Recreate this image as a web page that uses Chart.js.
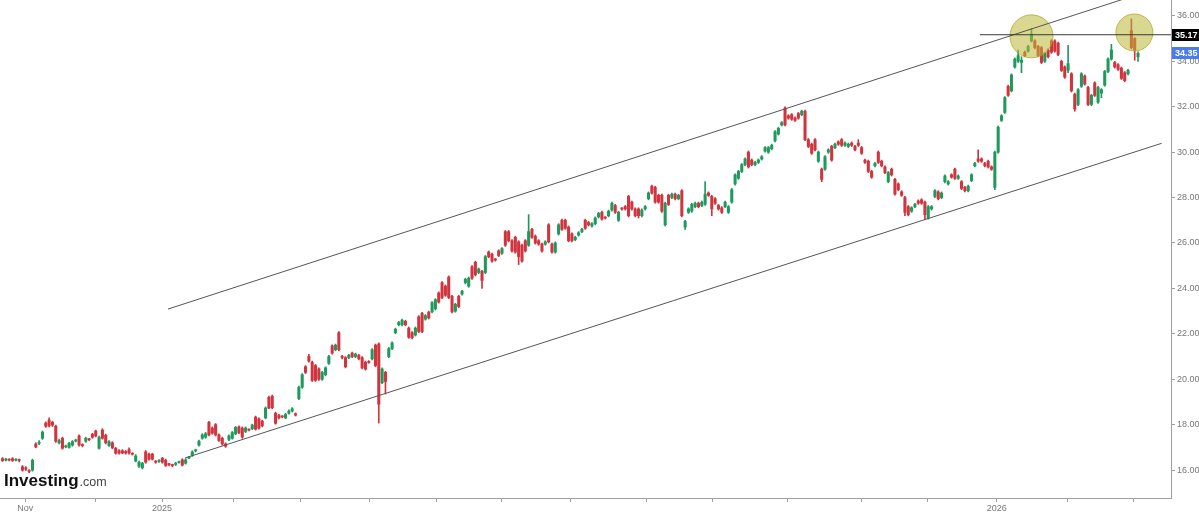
<!DOCTYPE html>
<html><head><meta charset="utf-8">
<script src="https://cdn.jsdelivr.net/npm/chart.js@4/dist/chart.umd.min.js"></script>
<style>html,body{margin:0;padding:0;background:#fff;overflow:hidden}#wrap{width:1199px;height:515px;position:relative}</style>
</head><body><div id="wrap"><canvas id="c"></canvas></div>
<script>
// ---- data ----
const opens=[
16.50,16.44,16.47,16.50,16.44,16.45,16.14,16.10,15.98,16.00,
17.15,17.18,17.40,18.07,18.20,18.10,17.93,17.20,17.40,17.02,
17.00,17.10,17.28,17.50,17.12,17.27,17.36,17.58,17.72,16.96,
17.76,17.53,17.08,17.20,16.96,16.85,16.85,16.82,16.90,16.72,
16.40,16.17,16.10,16.80,16.70,16.70,16.37,16.38,16.52,16.43,
16.26,16.22,16.25,16.33,16.45,16.30,16.53,16.65,16.85,17.10,
17.40,17.45,18.10,17.85,18.00,17.55,17.40,17.15,17.35,17.40,
17.60,17.90,17.85,17.70,17.78,17.82,18.33,18.25,18.15,18.30,
19.20,19.25,18.50,18.40,18.36,18.30,18.50,18.60,18.48,19.15,
19.65,20.55,21.00,20.75,20.60,20.45,20.00,20.20,20.70,21.47,
21.30,22.05,21.00,20.95,20.95,21.15,21.00,21.05,20.95,20.75,
20.77,20.90,21.50,21.55,19.85,20.30,21.00,21.35,22.05,22.40,
22.40,22.55,22.25,22.05,21.95,22.75,22.90,22.65,22.95,22.97,
23.10,23.80,24.25,24.10,24.50,23.65,23.00,23.65,23.75,24.25,
24.10,24.95,25.15,24.70,24.75,24.70,25.60,25.50,25.27,25.65,
25.55,26.50,26.50,26.10,26.25,26.05,25.90,26.10,25.90,26.60,
26.30,26.10,25.95,25.95,26.80,25.95,25.60,26.40,27.00,27.00,
26.70,26.40,26.15,26.35,26.50,27.00,26.90,26.75,26.85,27.15,
27.35,27.12,27.20,27.45,27.65,27.00,27.52,27.60,28.05,27.80,
27.50,27.50,27.20,27.50,27.95,28.50,28.45,28.10,28.10,26.80,
28.10,28.00,28.15,27.95,28.30,26.70,27.35,27.40,27.60,27.75,
27.65,27.70,28.20,28.05,27.95,27.65,27.55,27.60,27.35,27.80,
28.60,28.85,29.15,29.45,30.00,29.65,29.45,29.55,29.70,30.05,
30.00,30.15,30.50,30.80,31.20,31.95,31.60,31.65,31.50,31.70,
31.65,31.80,30.55,30.35,30.55,29.60,29.25,29.25,30.00,30.25,
30.20,30.45,30.55,30.30,30.25,30.40,30.25,30.40,30.20,29.65,
29.60,29.15,29.40,30.00,29.60,29.35,28.70,29.25,28.80,28.60,
28.25,28.00,27.60,27.40,27.60,27.85,27.90,27.80,27.10,27.50,
28.05,28.25,28.00,28.70,28.60,29.00,29.25,28.85,28.70,28.45,
28.30,28.75,29.40,29.70,29.70,29.50,29.60,29.35,28.45,30.00,
31.40,31.75,32.90,32.70,33.75,34.00,33.95,34.40,34.45,34.90,
34.90,34.65,34.60,34.00,34.50,34.90,34.90,34.80,34.00,33.75,
33.60,33.45,32.55,32.10,32.90,33.35,32.85,32.10,33.05,32.20,
32.60,32.95,33.55,34.10,33.95,33.85,33.70,33.50,33.45,35.35,
35.00,34.20];
const closes=[
16.42,16.47,16.44,16.42,16.46,16.42,16.00,16.04,15.94,16.43,
17.02,17.22,17.67,17.93,17.95,17.98,17.27,17.30,16.96,17.06,
17.18,17.25,17.32,17.10,17.08,17.40,17.34,17.45,17.50,17.45,
17.40,17.20,17.25,16.98,16.74,16.75,16.75,16.75,16.75,16.70,
16.62,16.35,16.30,16.35,16.48,16.48,16.35,16.42,16.35,16.20,
16.24,16.20,16.30,16.36,16.22,16.45,16.56,16.80,16.88,17.27,
17.55,17.60,17.55,17.62,17.55,17.30,17.15,17.05,17.50,17.65,
17.88,17.65,17.45,17.85,17.76,17.98,17.80,17.85,17.95,18.73,
18.73,18.75,18.06,18.30,18.34,18.45,18.60,18.70,18.42,19.65,
20.20,20.30,20.80,19.95,19.95,20.00,20.30,20.50,21.00,21.15,
21.50,21.30,20.96,20.55,21.05,21.00,21.10,20.90,20.50,20.45,
20.74,21.30,20.60,18.90,20.45,19.90,21.35,21.60,22.20,22.50,
22.60,22.40,21.85,21.83,22.25,22.10,22.10,22.80,22.70,23.37,
23.50,23.40,23.60,23.70,23.60,22.97,23.30,23.20,23.88,24.40,
24.45,24.45,24.60,24.85,24.35,25.40,25.40,25.20,25.25,25.45,
25.75,25.90,26.10,25.65,25.60,25.40,25.20,25.65,26.50,26.25,
26.00,25.95,25.65,26.05,26.05,25.60,26.00,26.80,26.60,26.65,
26.10,26.10,26.25,26.45,26.60,26.65,26.80,26.85,27.10,27.30,
27.05,27.10,27.40,27.75,27.35,27.35,27.50,27.50,27.20,27.50,
27.20,27.20,27.45,27.60,28.20,28.20,27.80,27.80,27.40,27.75,
27.70,28.15,27.95,28.10,27.20,26.95,27.50,27.70,27.75,27.60,
27.80,28.15,28.10,27.50,27.75,27.50,27.35,27.80,27.60,28.35,
29.00,29.15,29.45,29.70,29.35,29.45,29.55,29.65,29.80,30.20,
30.20,30.30,30.90,31.05,31.30,31.20,31.50,31.45,31.40,31.50,
31.80,30.55,30.25,29.95,30.10,30.00,28.80,29.80,30.10,29.65,
30.35,30.35,30.30,30.40,30.35,30.30,30.10,30.30,29.95,29.55,
29.15,28.90,29.50,29.55,29.40,29.10,29.10,29.00,28.15,28.35,
28.10,27.35,27.25,27.55,27.70,27.75,27.75,27.25,27.60,27.60,
28.30,27.95,28.20,28.95,28.70,28.90,28.85,28.95,28.40,28.30,
28.50,29.00,29.50,29.60,29.60,29.40,29.35,29.25,30.00,31.10,
31.60,32.40,32.50,33.40,34.10,34.25,34.05,34.25,34.65,35.20,
34.60,34.25,33.95,34.35,34.20,34.40,34.45,34.30,33.60,33.30,
33.90,32.70,31.90,32.75,33.45,33.00,32.10,32.50,32.50,32.85,
32.75,33.55,34.10,34.50,33.75,33.65,33.25,33.15,33.60,34.60,
34.50,34.35];
const highs=[
16.55,16.52,16.50,16.55,16.50,16.48,16.20,16.15,16.02,16.48,
17.20,17.30,17.72,18.12,18.30,18.15,17.98,17.36,17.45,17.10,
17.22,17.30,17.36,17.55,17.16,17.45,17.40,17.62,17.76,17.50,
17.82,17.58,17.30,17.25,17.00,16.90,16.90,16.86,16.98,16.76,
16.68,16.40,16.34,16.86,16.75,16.74,16.42,16.46,16.56,16.48,
16.30,16.26,16.34,16.40,16.50,16.50,16.60,16.85,16.92,17.32,
17.60,17.66,18.15,17.90,18.05,17.60,17.45,17.20,17.55,17.70,
17.92,17.95,17.90,17.90,17.82,18.02,18.38,18.30,18.20,18.78,
19.26,19.30,18.55,18.45,18.40,18.50,18.65,18.75,18.52,19.70,
20.25,20.60,21.10,20.80,20.65,20.50,20.35,20.55,21.05,21.52,
21.55,22.10,21.05,21.00,21.10,21.20,21.15,21.10,21.00,20.80,
20.82,21.35,21.55,21.60,20.50,20.35,21.40,21.65,22.25,22.55,
22.65,22.60,22.30,22.10,22.30,22.80,22.95,22.85,23.00,23.42,
23.55,23.85,24.30,24.15,24.55,23.70,23.35,23.70,23.92,24.45,
24.50,25.00,25.20,24.90,24.80,25.45,25.65,25.55,25.32,25.70,
25.80,26.55,26.55,26.15,26.30,26.10,25.95,26.15,27.25,26.65,
26.35,26.15,26.00,26.10,26.85,26.00,26.05,26.85,27.05,27.05,
26.75,26.45,26.30,26.50,26.65,27.05,26.95,26.90,27.15,27.35,
27.40,27.16,27.45,27.80,27.70,27.40,27.56,27.65,28.10,27.85,
27.55,27.55,27.50,27.65,28.25,28.55,28.50,28.15,28.15,27.80,
28.15,28.20,28.20,28.15,28.35,27.00,27.55,27.75,27.80,27.80,
27.85,28.70,28.25,28.10,28.00,27.70,27.60,27.85,27.65,28.40,
29.05,29.20,29.50,29.75,30.05,29.70,29.60,29.70,29.85,30.25,
30.25,30.35,30.95,31.10,31.35,32.00,31.65,31.70,31.55,31.75,
31.85,31.85,30.60,30.40,30.60,30.05,29.30,29.85,30.15,30.30,
30.40,30.50,30.60,30.45,30.40,30.45,30.30,30.55,30.25,29.70,
29.65,29.20,29.55,30.05,29.65,29.40,29.15,29.30,28.85,28.65,
28.30,28.05,27.65,27.60,27.75,27.90,27.95,27.85,27.65,27.65,
28.35,28.30,28.25,29.00,28.75,29.05,29.30,29.00,28.75,28.50,
28.55,29.05,29.55,30.10,29.75,29.55,29.65,29.40,30.05,31.15,
31.65,32.45,32.95,33.45,34.15,34.50,34.20,34.45,34.70,35.45,
34.95,34.70,34.65,34.40,34.55,34.95,34.95,34.85,34.05,33.80,
34.70,33.50,32.60,32.80,33.50,33.40,32.90,32.55,33.10,32.90,
32.80,33.60,34.15,34.75,34.00,33.90,33.75,33.55,33.65,35.87,
35.05,34.42];
const lows=[
16.38,16.40,16.40,16.38,16.40,16.36,15.95,15.98,15.88,15.95,
16.98,17.12,17.35,17.88,17.90,17.92,17.22,17.15,16.92,16.98,
16.96,17.05,17.24,17.05,17.02,17.22,17.30,17.40,17.46,16.92,
17.36,17.15,17.04,16.94,16.70,16.70,16.72,16.70,16.70,16.66,
16.36,16.12,16.05,16.30,16.44,16.44,16.30,16.34,16.30,16.16,
16.18,16.14,16.20,16.30,16.18,16.26,16.50,16.60,16.80,17.05,
17.36,17.40,17.50,17.58,17.50,17.26,17.10,17.00,17.30,17.36,
17.56,17.60,17.40,17.65,17.72,17.78,17.76,17.80,17.90,18.26,
18.70,18.70,18.02,18.25,18.30,18.26,18.46,18.56,18.38,19.10,
19.60,20.25,20.75,19.90,19.90,19.95,19.95,20.15,20.65,21.10,
21.25,21.25,20.90,20.50,20.90,20.95,20.95,20.85,20.45,20.40,
20.70,20.85,20.55,18.07,19.80,19.35,20.95,21.30,22.00,22.35,
22.35,22.35,21.80,21.78,21.90,22.05,22.05,22.60,22.65,22.92,
23.05,23.35,23.55,23.65,23.55,22.92,22.95,23.15,23.70,24.20,
24.05,24.40,24.55,24.65,24.00,24.65,25.35,25.15,25.20,25.40,
25.50,25.85,26.05,25.60,25.55,25.05,25.15,25.60,25.85,26.20,
25.95,25.90,25.60,25.90,26.00,25.55,25.55,26.35,26.55,26.60,
26.05,26.05,26.10,26.30,26.45,26.60,26.75,26.70,26.80,27.10,
27.00,27.05,27.15,27.40,27.30,26.95,27.45,27.45,27.15,27.45,
27.15,27.10,27.15,27.45,27.90,28.15,27.75,27.75,27.35,26.75,
27.65,27.95,27.90,27.90,27.15,26.60,27.30,27.35,27.55,27.55,
27.60,27.65,28.05,27.20,27.70,27.45,27.30,27.55,27.30,27.75,
28.55,28.80,29.10,29.40,29.30,29.40,29.40,29.50,29.65,30.00,
29.95,30.10,30.45,30.75,31.15,31.15,31.45,31.40,31.35,31.45,
31.60,30.50,30.20,29.90,30.05,29.55,28.70,29.20,29.95,29.60,
30.15,30.30,30.25,30.25,30.20,30.25,30.05,30.25,29.90,29.50,
29.10,28.85,29.35,29.50,29.35,29.05,28.65,28.95,28.10,28.30,
28.05,27.20,27.20,27.35,27.55,27.70,27.70,27.05,27.05,27.45,
28.00,27.90,27.95,28.65,28.55,28.85,28.80,28.80,28.35,28.25,
28.25,28.70,29.35,29.55,29.55,29.35,29.30,29.20,28.35,29.95,
31.35,31.70,32.45,32.65,33.70,33.95,33.50,34.20,34.40,34.85,
34.55,34.20,33.90,33.95,34.15,34.35,34.40,34.25,33.55,33.25,
33.50,32.65,31.80,32.05,32.85,32.95,32.05,32.05,32.45,32.15,
32.40,32.90,33.50,34.05,33.70,33.60,33.20,33.10,33.40,34.55,
34.05,34.00];

// month boundaries on the trading-day index axis and their labels
const monthTickIdx=[6.8,27.8,47.9,69.5,89.6,110.1,130.2,150.0,170.7,193.5,213.1,235.6,258.1,277.9,298.6,319.7,339.5];
const monthTickLabels=['Nov','','2025','','','','','','','','','','','','2026','',''];
const priceTicks=[16,18,20,22,24,26,28,30,32,34,36];

// drawn annotations (trading-day index, price)
const upperChannel=[{x:49.7,y:23.09},{x:340,y:36.90}];
const lowerChannel=[{x:54.8,y:16.53},{x:348.1,y:30.39}];
const resistanceLine=[{x:293.5,y:35.17},{x:351,y:35.17}];
const highlightCircles=[{x:309.0,y:35.10},{x:339.9,y:35.27}];
const priceTags=[35.17,34.35];

// ---- chart ----
const UP='#1f9a5c', DOWN='#d0343e';
const bodies=opens.map((o,i)=>({x:i,y:[o,closes[i]]}));
const wicks=lows.map((l,i)=>({x:i,y:[l,highs[i]]}));
const colorFor=c=>closes[c.dataIndex]>=opens[c.dataIndex]?UP:DOWN;

const overlayPlugin={
  id:'overlay',
  afterDraw(chart){
    const {ctx,chartArea:a,scales:{y}}=chart;
    const bgs=['#000000','#4a7cf0'];
    ctx.save();
    priceTags.forEach((v,k)=>{
      const py=Math.round(y.getPixelForValue(v));
      ctx.fillStyle=bgs[k];
      ctx.fillRect(a.right+1,py-6,30,12);
      ctx.fillStyle='#ffffff';
      ctx.font='bold 9px "Liberation Sans", Arial, sans-serif';
      ctx.textBaseline='middle';ctx.textAlign='left';
      ctx.fillText(v.toFixed(2),a.right+4,py+0.5);
    });
    // logo
    ctx.textBaseline='alphabetic';ctx.textAlign='left';
    ctx.fillStyle='#111';
    ctx.font='bold 17px "Liberation Sans", Arial, sans-serif';
    const lx=a.left+4, ly=a.bottom-12;
    ctx.fillText('Investing',lx,ly);
    const w=ctx.measureText('Investing').width;
    ctx.fillStyle='#444';
    ctx.font='12.5px "Liberation Sans", Arial, sans-serif';
    ctx.fillText('.com',lx+w+1,ly);
    ctx.restore();
  }
};

new Chart(document.getElementById('c'),{
  type:'bar',
  data:{datasets:[
    {type:'line',data:resistanceLine,borderColor:'#3a3a3a',borderWidth:1,pointRadius:0,order:0},
    {type:'line',data:upperChannel,borderColor:'#555555',borderWidth:1,pointRadius:0,order:0},
    {type:'line',data:lowerChannel,borderColor:'#555555',borderWidth:1,pointRadius:0,order:0},
    {type:'bubble',data:highlightCircles,radius:[21.5,18.5],backgroundColor:'rgba(188,182,52,0.55)',borderColor:'rgba(170,164,40,0.75)',borderWidth:1,order:1},
    {data:bodies,backgroundColor:colorFor,barThickness:2.4,minBarLength:1,grouped:false,order:2},
    {data:wicks,backgroundColor:colorFor,barThickness:1,grouped:false,order:3}
  ]},
  options:{
    responsive:true,maintainAspectRatio:false,animation:false,events:[],
    layout:{padding:0,autoPadding:false},
    plugins:{legend:{display:false},tooltip:{enabled:false}},
    scales:{
      x:{type:'linear',min:-0.75,max:350.9,offset:false,
        grid:{display:true,offset:false,drawOnChartArea:false,drawTicks:true,tickLength:4,color:'#a0a0a0'},
        border:{display:true,color:'#a0a0a0'},
        ticks:{autoSkip:false,maxRotation:0,padding:1,color:'#777',font:{size:9,family:'"Liberation Sans", Arial, sans-serif'},
          callback:(v,i)=>monthTickLabels[i]},
        afterBuildTicks:s=>{s.ticks=monthTickIdx.map(v=>({value:v}));},
        afterFit:s=>{s.height=17;s.paddingLeft=0;s.paddingRight=0;}
      },
      y:{type:'linear',position:'right',min:14.77,max:36.70,
        grid:{display:true,drawOnChartArea:false,drawTicks:true,tickLength:4,color:'#a0a0a0'},
        border:{display:true,color:'#a0a0a0'},
        ticks:{padding:2,color:'#777',font:{size:9,family:'"Liberation Sans", Arial, sans-serif'},
          callback:v=>Number(v).toFixed(2)},
        afterBuildTicks:s=>{s.ticks=priceTicks.map(v=>({value:v}));},
        afterFit:s=>{s.width=28;s.paddingTop=0;s.paddingBottom=0;}
      }
    }
  },
  plugins:[overlayPlugin]
});
</script></body></html>
